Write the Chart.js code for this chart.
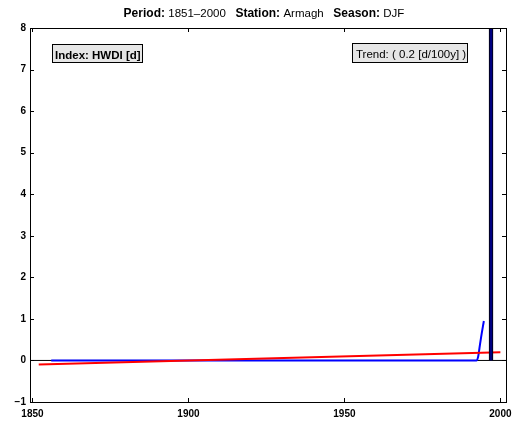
<!DOCTYPE html>
<html>
<head>
<meta charset="utf-8">
<script src="https://cdn.jsdelivr.net/npm/chart.js@4/dist/chart.umd.min.js"></script>
<style>
  html, body { margin: 0; padding: 0; background: #fff; }
  #wrap { width: 513px; height: 425px; }
</style>
</head>
<body>
<div id="wrap"><canvas id="chart"></canvas></div>
<script>
// values
const xTicks = [1850, 1900, 1950, 2000];
const yTicks = [-1, 0, 1, 2, 3, 4, 5, 6, 7, 8];

const indexYears = [1856, 1992.3, 1992.9, 1993.3, 1993.8, 1994.7];
const indexValues = [0, 0, 0.1, 0.3, 0.55, 0.95];

const trendYears = [1852, 2000];
const trendValues = [-0.1, 0.2];

const barYears = [1997];
const barValues = [9];

const zeroLine = [[1849.2, 0], [2001.8, 0]];

function pts(xs, ys) {
    return xs.map((x, i) => ({ x: x, y: ys[i] }));
}

const FONT = "'Liberation Sans', Arial, Helvetica, sans-serif";

// frame, inward ticks, title and the two label boxes
const decorations = {
    id: "decorations",
    afterDraw(chart) {
        const ctx = chart.ctx;
        const a = chart.chartArea;
        const xs = chart.scales.x;
        const ys = chart.scales.y;
        ctx.save();
        ctx.strokeStyle = "#000";
        ctx.lineWidth = 1;
        ctx.strokeRect(Math.round(a.left) + 0.5, Math.round(a.top) + 0.5,
            Math.round(a.right - a.left), Math.round(a.bottom - a.top));
        ctx.beginPath();
        xTicks.forEach(v => {
            const px = Math.round(xs.getPixelForValue(v)) + 0.5;
            ctx.moveTo(px, a.bottom); ctx.lineTo(px, a.bottom - 4);
            ctx.moveTo(px, a.top); ctx.lineTo(px, a.top + 4);
        });
        yTicks.forEach(v => {
            const py = Math.round(ys.getPixelForValue(v)) + 0.5;
            ctx.moveTo(a.left, py); ctx.lineTo(a.left + 4, py);
            ctx.moveTo(a.right, py); ctx.lineTo(a.right - 4, py);
        });
        ctx.stroke();

        // title with bold labels
        const parts = [
            ["Period: ", true], ["1851\u20132000", false], ["   ", false],
            ["Station: ", true], ["Armagh", false], ["   ", false],
            ["Season: ", true], ["DJF", false]
        ];
        const fontFor = b => (b ? "bold 12px " : "11.5px ") + FONT;
        let w = 0;
        parts.forEach(p => {
            ctx.font = fontFor(p[1]);
            w += ctx.measureText(p[0]).width;
        });
        let x = 264 - w / 2;
        ctx.fillStyle = "#000";
        ctx.textBaseline = "alphabetic";
        parts.forEach(p => {
            ctx.font = fontFor(p[1]);
            ctx.fillText(p[0], x, 17);
            x += ctx.measureText(p[0]).width;
        });

        // index box
        ctx.fillStyle = "#e6e6e6";
        ctx.fillRect(52.5, 44.5, 90, 18);
        ctx.fillStyle = "#000";
        ctx.font = "bold 11.5px " + FONT;
        ctx.fillText("Index: HWDI [d]", 55, 58.5);
        ctx.strokeRect(52.5, 44.5, 90, 18);

        // trend box
        ctx.fillStyle = "#e6e6e6";
        ctx.fillRect(352.5, 43.5, 115, 19);
        ctx.fillStyle = "#000";
        ctx.font = "11.5px " + FONT;
        ctx.fillText("Trend: ( 0.2 [d/100y] )", 356, 58);
        ctx.strokeRect(352.5, 43.5, 115, 19);
        ctx.restore();
    }
};

const ctx = document.getElementById("chart").getContext("2d");
new Chart(ctx, {
    data: {
        datasets: [
            {
                type: "line",
                data: zeroLine.map(p => ({ x: p[0], y: p[1] })),
                borderColor: "#000",
                borderWidth: 1,
                pointRadius: 0,
                order: 4
            },
            {
                type: "line",
                data: pts(indexYears, indexValues),
                borderColor: "#0000ff",
                borderWidth: 2,
                pointRadius: 0,
                cubicInterpolationMode: "monotone",
                order: 3
            },
            {
                type: "line",
                data: pts(trendYears, trendValues),
                borderColor: "#ff0000",
                borderWidth: 2,
                pointRadius: 0,
                order: 2
            },
            {
                type: "bar",
                data: pts(barYears, barValues),
                backgroundColor: "#000080",
                borderColor: "#000",
                borderWidth: 1,
                barThickness: 4,
                grouped: false,
                order: 1
            }
        ]
    },
    options: {
        responsive: true,
        maintainAspectRatio: false,
        animation: false,
        layout: { padding: { top: 28, right: 7, left: 0, bottom: 0 } },
        plugins: {
            legend: { display: false },
            tooltip: { enabled: false }
        },
        scales: {
            x: {
                type: "linear",
                min: 1849.2,
                max: 2001.8,
                offset: false,
                grid: { display: false, drawTicks: false },
                border: { display: false },
                afterBuildTicks: s => { s.ticks = xTicks.map(v => ({ value: v })); },
                afterFit: s => { s.height = 23; s.paddingLeft = 0; s.paddingRight = 0; },
                ticks: {
                    color: "#000",
                    font: { family: FONT, size: 10, weight: "bold" },
                    padding: 6,
                    maxRotation: 0,
                    autoSkip: false,
                    callback: v => String(v)
                }
            },
            y: {
                min: -1,
                max: 8,
                grid: { display: false, drawTicks: false },
                border: { display: false },
                afterBuildTicks: s => { s.ticks = yTicks.map(v => ({ value: v })); },
                afterFit: s => { s.width = 30; s.paddingTop = 0; s.paddingBottom = 0; },
                ticks: {
                    color: "#000",
                    font: { family: FONT, size: 10, weight: "bold" },
                    padding: 4,
                    callback: v => v < 0 ? "\u2212" + Math.abs(v) : String(v)
                }
            }
        }
    },
    plugins: [decorations]
});
</script>
</body>
</html>
